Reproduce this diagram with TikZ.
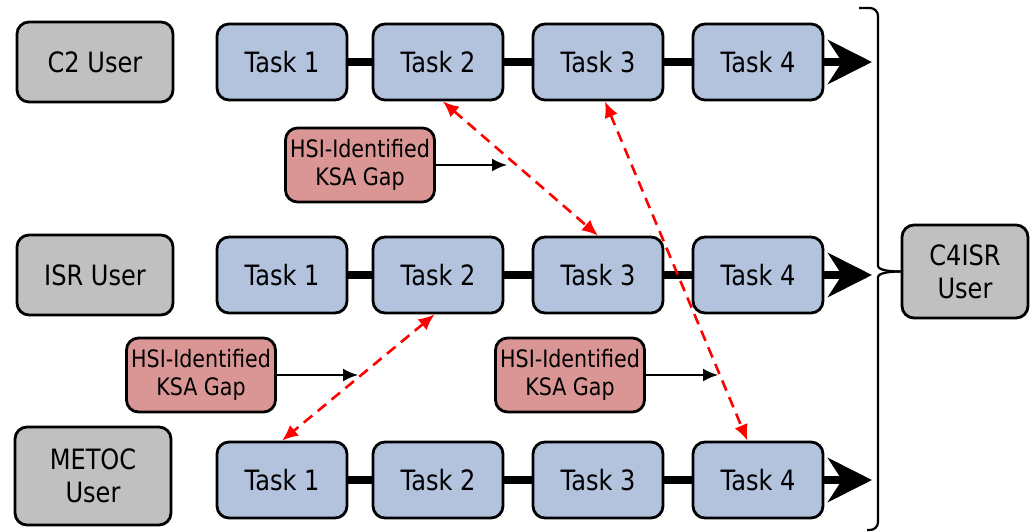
\documentclass[tikz,border=0pt]{standalone}
\usepackage{fontspec}
\setmainfont{DejaVu Sans}[FakeStretch=0.86]
\usepackage{tikz}
\usetikzlibrary{arrows.meta,positioning}
\definecolor{taskblue}{HTML}{B3C3DE}
\definecolor{usergray}{HTML}{C0C0C0}
\definecolor{gapred}{HTML}{DA9694}
\tikzset{
  taskbox/.style={draw=black,line width=1.4pt,rounded corners=6pt,fill=taskblue,align=center,
    minimum width=65pt,minimum height=38pt,inner sep=2pt,font=\fontsize{14}{16.5}\selectfont},
  userbox/.style={taskbox,fill=usergray,minimum width=78pt,minimum height=40pt},
  gapbox/.style={taskbox,fill=gapred,minimum width=74.5pt,minimum height=37pt,inner sep=1pt,
    font=\fontsize{12}{14}\selectfont},
  link/.style={line width=4pt},
  flow/.style={link,-{Stealth[length=22pt,width=22pt,inset=7pt]}},
  pointer/.style={-{Latex[length=7.5pt,width=6.5pt]},line width=1pt},
  crossarr/.style={{Latex[length=8pt,width=7pt]}-{Latex[length=8pt,width=7pt]},draw=red,
    line width=1.3pt,dash pattern=on 5.5pt off 3.5pt},
  bracket/.style={line width=1.1pt,rounded corners=4pt},
}
\begin{document}
\begin{tikzpicture}[x=0.5pt,y=-0.5pt]
  \useasboundingbox (0,0) rectangle (1034,531);
  % users and task chains
  \node[userbox] (u1) at (95,62) {C2 User};
  \node[userbox] (u2) at (95,275) {ISR User};
  \node[userbox,minimum height=49pt] (u3) at (93,476) {METOC\\User};
  \foreach \r/\y in {1/62,2/275,3/480}{
    \foreach \j/\x in {1/282,2/438,3/598,4/758}{
      \node[taskbox] (t\r\j) at (\x,\y) {Task \j};
    }
    \draw[link] (t\r1) -- (t\r2);
    \draw[link] (t\r2) -- (t\r3);
    \draw[link] (t\r3) -- (t\r4);
    \coordinate (e\r) at (872,\y);
    \draw[flow] (t\r4) -- (e\r);
  }
  % joint user
  \node[userbox,minimum width=63pt,minimum height=46.5pt] (c4) at (965,271.5) {C4ISR\\User};
  \draw[bracket] (859,8) -- (878,8) -- (878,258) .. controls (878,268) and (882,271.5) .. (c4.west);
  \draw[bracket] (867,530) -- (878,530) -- (878,285) .. controls (878,275) and (882,271.5) .. (c4.west);
  % KSA gaps
  \node[gapbox] (g1) at (360,165) {HSI-Identified\\KSA Gap};
  \node[gapbox] (g2) at (201,375) {HSI-Identified\\KSA Gap};
  \node[gapbox] (g3) at (570,375) {HSI-Identified\\KSA Gap};
  \coordinate (g1e) at (507,165);
  \coordinate (g2e) at (358,375);
  \coordinate (g3e) at (718,375);
  \draw[pointer] (g1.east) -- (g1e);
  \draw[pointer] (g2.east) -- (g2e);
  \draw[pointer] (g3.east) -- (g3e);
  % cross-chain dependencies
  \draw[crossarr] (t12.-83) -- (t23.north);
  \draw[crossarr] (t13.-80) -- (t34.105);
  \draw[crossarr] (t22.-95) -- (t31.north);
\end{tikzpicture}
\end{document}
